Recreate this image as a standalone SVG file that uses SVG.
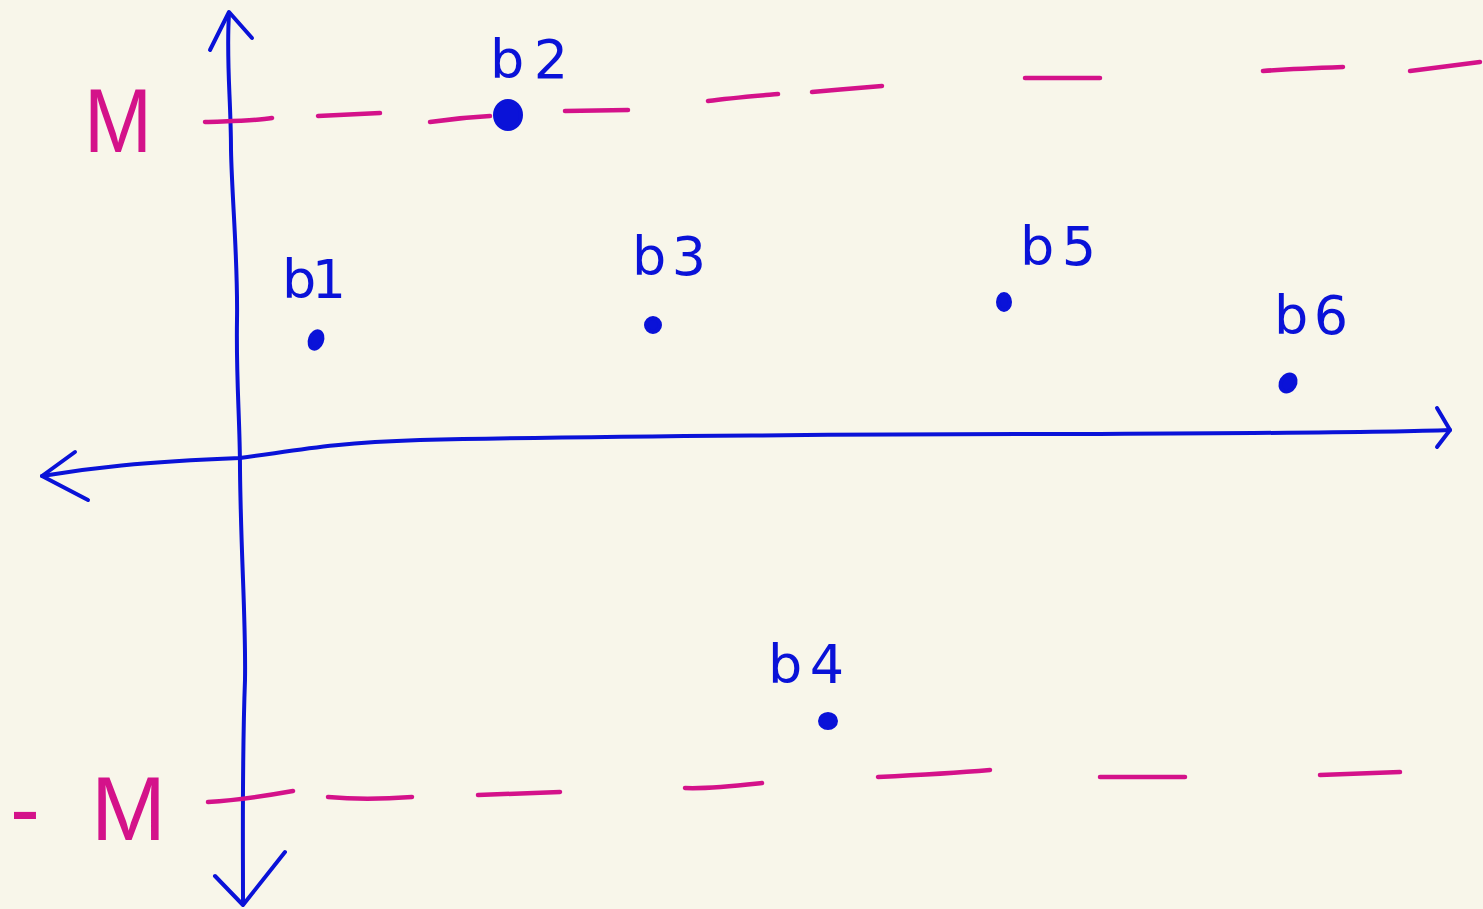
<svg xmlns="http://www.w3.org/2000/svg" width="1483" height="909" viewBox="0 0 1483 909">
<style>
.ax{fill:none;stroke:#0a12d8;stroke-width:4;stroke-linecap:round;stroke-linejoin:round}
.mg{fill:none;stroke:#d4128a;stroke-width:4.5;stroke-linecap:round}
.lbl{font-family:"DejaVu Sans","Liberation Sans",sans-serif;font-size:54px;fill:#0a12d8}
.mtx{font-family:"Liberation Sans","DejaVu Sans",sans-serif;font-size:90px;fill:#d4128a}
.pt{fill:#0a12d8;stroke:#0a12d8;stroke-width:4}
</style>
<rect width="1483" height="909" fill="#f8f6ea"/>
<g id="axes" class="ax">
<path d="M229,14 C226,60 231,100 231,150 C232,200 238,260 237,320 C236,380 240,420 240,470 C241,560 246,620 245,680 C242,760 243,830 243,903"/>
<path d="M210,50 L229,12 L252,38"/>
<path d="M215,876 L243,905 L285,852"/>
<path d="M42,476 C90,468 140,462 240,458 C300,450 330,443 420,440 C600,436 900,434 1100,434 C1300,433 1400,432 1450,430"/>
<path d="M75,452 L42,476 L88,500"/>
<path d="M1437,408 L1450,430 L1437,447"/>
</g>
<g id="bound-M" class="mg">
<path d="M205,122 C230,121 255,121 272,118"/>
<path d="M318,116 L380,113"/>
<path d="M430,122 C450,119 470,117 490,116"/>
<path d="M565,111 L628,110"/>
<path d="M708,101 C730,98 755,96 778,94"/>
<path d="M812,92 C835,90 860,88 882,86"/>
<path d="M1025,78 L1100,78"/>
<path d="M1263,71 C1290,69 1315,68 1343,67"/>
<path d="M1410,71 C1435,68 1458,65 1480,62"/>
</g>
<g id="bound-negM" class="mg">
<path d="M208,802 C240,800 265,796 293,791"/>
<path d="M328,797 C360,800 385,799 412,797"/>
<path d="M478,795 L560,792"/>
<path d="M685,788 C710,789 735,786 762,783"/>
<path d="M878,777 C920,775 955,773 990,770"/>
<path d="M1100,777 L1185,777"/>
<path d="M1320,775 L1400,772"/>
</g>
<g id="label-M"><text class="mtx" x="84" y="152" textLength="68" lengthAdjust="spacingAndGlyphs">M</text></g>
<g id="label-negM"><text class="mtx" x="10" y="840" textLength="156" lengthAdjust="spacing">-M</text></g>
<g id="b1"><text class="lbl" x="282" y="298" textLength="64" lengthAdjust="spacing">b1</text><ellipse class="pt" cx="316" cy="340" rx="6" ry="9" transform="rotate(20 316 340)"/></g>
<g id="b2"><text class="lbl" x="490" y="78" textLength="78" lengthAdjust="spacing">b2</text><ellipse class="pt" cx="508" cy="115" rx="13" ry="14"/></g>
<g id="b3"><text class="lbl" x="632" y="275" textLength="74" lengthAdjust="spacing">b3</text><ellipse class="pt" cx="653" cy="325" rx="7" ry="7"/></g>
<g id="b4"><text class="lbl" x="768" y="683" textLength="76" lengthAdjust="spacing">b4</text><ellipse class="pt" cx="828" cy="721" rx="8" ry="7"/></g>
<g id="b5"><text class="lbl" x="1020" y="265" textLength="76" lengthAdjust="spacing">b5</text><ellipse class="pt" cx="1004" cy="302" rx="6" ry="8"/></g>
<g id="b6"><text class="lbl" x="1274" y="334" textLength="74" lengthAdjust="spacing">b6</text><ellipse class="pt" cx="1288" cy="383" rx="7" ry="9" transform="rotate(30 1288 383)"/></g>
</svg>
